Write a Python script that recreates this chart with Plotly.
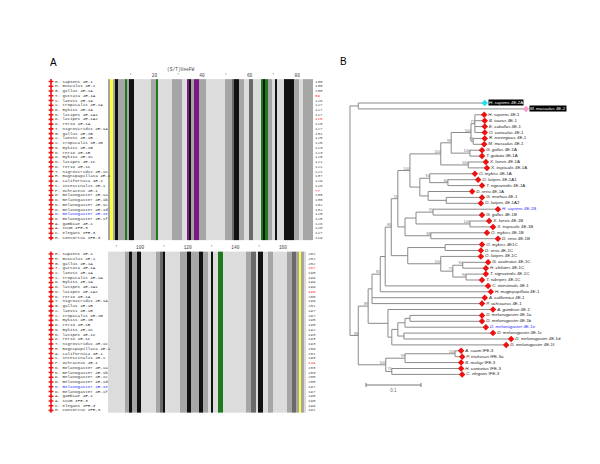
import plotly.graph_objects as go

W, H = 600, 464

# ---------------- Panel A : alignment data ----------------
aln_names = [
    "H. sapiens 4E-1", "M. musculus 4E-1", "G. gallus 4E-1A", "T. guttata 4E-1A",
    "X. laevis 4E-1A", "X. tropicalis 4E-1A", "O. mykiss 4E-1A", "O. latipes 4E-1A1",
    "O. latipes 4E-1A2", "D. rerio 4E-1A", "T. nigroviridis 4E-1A", "G. gallus 4E-1B",
    "X. laevis 4E-1B", "X. tropicalis 4E-1B", "O. mykiss 4E-1B", "D. rerio 4E-1B",
    "O. mykiss 4E-1C", "O. latipes 4E-1C", "D. rerio 4E-1C", "T. nigroviridis 4E-1C",
    "H. magnipapillata 4E-1", "A. californica 4E-1", "C. intestinalis 4E-1", "P. ochraceus 4E-1",
    "D. melanogaster 4E-1a", "D. melanogaster 4E-1b", "D. melanogaster 4E-1c", "D. melanogaster 4E-1d",
    "D. melanogaster 4E-1e", "D. melanogaster 4E-1f", "A. gambiae 4E-1", "A. suum IFE-3",
    "C. elegans IFE-3", "H. contortus IFE-3",
]
aln_blue_names = ["D. melanogaster 4E-1e"]

# column shading classes: . unshaded, g grey, d dark grey, k black, y yellow, G green, p purple
block1_classes = "gygkgggGgkk.......ggG......gggg..pkgppggg........gggdkkgg..dd...GkGgg.k...kkkkgg..gggg"
block2_classes = ".......ggkggkk......ggdk......gggkkgggkkgg.k..GG..........ggdd.kk..gg......ggddgyg."
block1_start = 1
block2_start = 87
block1_ticks = [10, 20, 30, 40, 50, 60, 70, 80]
block2_ticks = [90, 100, 110, 120, 130, 140, 150, 160]
block1_motif = "(S/T)VeeFW"

block1_end = [130, 130, 130, 89, 126, 127, 127, 127, 118, 128, 127, 131, 125, 125, 123, 123, 120,
              121, 121, 121, 137, 129, 126, 77, 130, 130, 132, 132, 125, 125, 126, 118, 127, 119]
block1_end_red = [3, 8, 23]
block2_end = [202, 202, 202, 167, 198, 199, 199, 199, 190, 200, 199, 201, 197, 197, 195, 195, 192,
              193, 193, 193, 209, 201, 198, 149, 203, 203, 205, 205, 197, 197, 198, 190, 199, 191]
block2_end_red = [3, 8, 23]

class_order = [".", "g", "d", "k", "y", "G", "p"]
class_colors = ["#dcdcdc", "#a6a6a6", "#6a6a6a", "#111111", "#ffff3a", "#1f7a1f", "#7d1a86"]

# ---------------- Panel B : tree data ----------------
tree_leaves = [
    "H. sapiens 4E-2A", "M. musculus 4E-2", "H. sapiens 4E-1", "B. taurus 4E-1", "E. caballus 4E-1",
    "O. cuniculus 4E-1", "R. norvegicus 4E-1", "M. musculus 4E-1", "G. gallus 4E-1A", "T. guttata 4E-1A",
    "X. laevis 4E-1A", "X. tropicalis 4E-1A", "O. mykiss 4E-1A", "O. latipes 4E-1A1",
    "T. nigroviridis 4E-1A", "D. rerio 4E-1A", "G. morhua 4E-1", "O. latipes 4E-1A2",
    "H. sapiens 4E-1B", "G. gallus 4E-1B", "X. laevis 4E-1B", "X. tropicalis 4E-1B", "O. mykiss 4E-1B",
    "D. rerio 4E-1B", "O. mykiss 4E1C", "D. rerio 4E-1C", "O. latipes 4E-1C", "G. aculeatus 4E-1C",
    "H. chilotes 4E-1C", "T. nigroviridis 4E-1C", "T. rubripes 4E-1C", "C. intestinalis 4E-1",
    "H. magnipapillata 4E-1", "A. californica 4E-1", "P. ochraceus 4E-1", "A. gambiae 4E-1",
    "D. melanogaster 4E-1a", "D. melanogaster 4E-1b", "D. melanogaster 4E-1e", "D. melanogaster 4E-1c",
    "D. melanogaster 4E-1d", "D. melanogaster 4E-1f", "A. suum IFE-3", "P. trichosuri IFE-3a",
    "B. malayi IFE-3", "H. contortus IFE-3", "C. elegans IFE-3",
]
leaf_depth = [
    0.245, 0.320, 0.244, 0.245, 0.245, 0.245, 0.245, 0.244, 0.240, 0.240,
    0.247, 0.249, 0.227, 0.233, 0.240, 0.222, 0.240, 0.238, 0.269, 0.240,
    0.253, 0.260, 0.249, 0.269, 0.240, 0.238, 0.238, 0.251, 0.247, 0.247,
    0.240, 0.251, 0.256, 0.245, 0.240, 0.260, 0.240, 0.240, 0.247, 0.260,
    0.293, 0.284, 0.202, 0.204, 0.202, 0.202, 0.204,
]
leaf_blue = ["H. sapiens 4E-1B", "D. melanogaster 4E-1e"]
leaf_boxed = {"H. sapiens 4E-2A": "#22e0f0", "M. musculus 4E-2": "#ff9ccf"}

node_names = ["n4E2", "m1", "m2", "mam", "birdA", "amn", "xenA", "tetA", "fa1", "fa2", "fa3", "fa4",
              "fishA", "A1", "b1", "b2", "b3", "b4", "B1", "AB", "c1", "c2", "c3", "c4", "c5", "C1",
              "ABC", "D1", "D2", "D3", "i1", "i2", "i3", "i4", "dm", "ins", "E", "n1", "n2", "n3",
              "nem", "main", "root"]
node_children = [
    ["H. sapiens 4E-2A", "M. musculus 4E-2"],
    ["H. sapiens 4E-1", "B. taurus 4E-1", "E. caballus 4E-1", "O. cuniculus 4E-1"],
    ["R. norvegicus 4E-1", "M. musculus 4E-1"],
    ["m1", "m2"],
    ["G. gallus 4E-1A", "T. guttata 4E-1A"],
    ["mam", "birdA"],
    ["X. laevis 4E-1A", "X. tropicalis 4E-1A"],
    ["amn", "xenA"],
    ["O. latipes 4E-1A1", "T. nigroviridis 4E-1A"],
    ["O. mykiss 4E-1A", "fa1"],
    ["G. morhua 4E-1", "O. latipes 4E-1A2"],
    ["D. rerio 4E-1A", "fa3"],
    ["fa2", "fa4"],
    ["tetA", "fishA"],
    ["H. sapiens 4E-1B", "G. gallus 4E-1B"],
    ["X. laevis 4E-1B", "X. tropicalis 4E-1B"],
    ["b1", "b2"],
    ["O. mykiss 4E-1B", "D. rerio 4E-1B"],
    ["b3", "b4"],
    ["A1", "B1"],
    ["O. mykiss 4E1C", "D. rerio 4E-1C"],
    ["T. nigroviridis 4E-1C", "T. rubripes 4E-1C"],
    ["G. aculeatus 4E-1C", "H. chilotes 4E-1C"],
    ["c3", "c2"],
    ["O. latipes 4E-1C", "c4"],
    ["c1", "c5"],
    ["AB", "C1"],
    ["ABC", "C. intestinalis 4E-1"],
    ["D1", "H. magnipapillata 4E-1"],
    ["D2", "A. californica 4E-1", "P. ochraceus 4E-1"],
    ["D. melanogaster 4E-1a", "D. melanogaster 4E-1b"],
    ["i1", "D. melanogaster 4E-1e"],
    ["D. melanogaster 4E-1c", "D. melanogaster 4E-1d"],
    ["i2", "i3"],
    ["i4", "D. melanogaster 4E-1f"],
    ["A. gambiae 4E-1", "dm"],
    ["D3", "ins"],
    ["A. suum IFE-3", "P. trichosuri IFE-3a"],
    ["n1", "B. malayi IFE-3"],
    ["H. contortus IFE-3", "C. elegans IFE-3"],
    ["n2", "n3"],
    ["E", "nem"],
    ["n4E2", "main"],
]
node_depth = [0.015, 0.227, 0.224, 0.220, 0.218, 0.184, 0.215, 0.165, 0.178, 0.145, 0.175, 0.142,
              0.127, 0.109, 0.151, 0.218, 0.120, 0.147, 0.100, 0.087, 0.173, 0.211, 0.205, 0.187,
              0.165, 0.105, 0.075, 0.064, 0.055, 0.040, 0.109, 0.100, 0.098, 0.087, 0.076, 0.069,
              0.033, 0.191, 0.100, 0.076, 0.065, 0.015, 0.0]
node_support = ["", "75", "73", "100", "100", "99", "100", "100", "60", "90", "", "", "", "100",
                "95", "100", "", "88", "", "76", "", "90", "90", "75", "100", "", "86", "", "85",
                "", "", "", "", "", "", "", "89", "100", "99", "70", "100", "88", ""]
scale_len = 0.1

# ---------------- pixel geometry helpers ----------------
def xdom(a, b):
    return [a / W, b / W]

def ydom(top, bottom):
    return [1 - bottom / H, 1 - top / H]

# alignment axis: px = 100 + 2.38*x ; py = 73.5 + 4.74*y
AX0, AXS = 100.0, 2.38
AY0, AYS = 73.5, 4.74
a_left, a_right, a_top, a_bot = 35, 325, 55, 410
block2_y0 = (246 - AY0) / AYS

# tree axis: px = 342 + 550*d ; py = 95 + 5.9*i
TX0, TXS = 342.0, 550.0
TY0, TYS = 95.0, 5.9
t_left, t_right, t_top, t_bot = 335, 600, 45, 400

fig = go.Figure()

# ---- alignment heatmaps ----
ncls = len(class_order)
cscale = []
for k, c in enumerate(class_colors):
    cscale.append([k / ncls, c])
    cscale.append([(k + 1) / ncls, c])

def block_z(classes, nrows):
    row = [class_order.index(ch) for ch in classes]
    return [row[:] for _ in range(nrows)]

nrows = len(aln_names)
b1_y = list(range(nrows))
b2_y = [block2_y0 + j for j in range(nrows)]
for classes, ys in ((block1_classes, b1_y), (block2_classes, b2_y)):
    fig.add_trace(go.Heatmap(
        z=block_z(classes, nrows), x=[c + 0.5 for c in range(len(classes))], y=ys,
        colorscale=cscale, zmin=0, zmax=ncls, showscale=False, hoverinfo="skip",
        xaxis="x", yaxis="y"))

# row labels + red markers (both blocks)
lab_x = (47 - AX0) / AXS
mk_x = (43 - AX0) / AXS
for ys in (b1_y, b2_y):
    fig.add_trace(go.Scatter(
        x=[mk_x] * nrows, y=ys, mode="markers",
        marker=dict(symbol="cross", size=4, color="#ee1111", line=dict(width=0)),
        hoverinfo="skip", xaxis="x", yaxis="y", showlegend=False))
    fig.add_trace(go.Scatter(
        x=[lab_x] * nrows, y=ys, mode="text", text=aln_names, textposition="middle right",
        textfont=dict(family="Liberation Mono", size=4.2,
                      color=["#2a2aff" if n in aln_blue_names else "#333333" for n in aln_names]),
        hoverinfo="skip", xaxis="x", yaxis="y", showlegend=False))

# end numbers
for vals, reds, ys, ncol in ((block1_end, block1_end_red, b1_y, len(block1_classes)),
                             (block2_end, block2_end_red, b2_y, len(block2_classes))):
    fig.add_trace(go.Scatter(
        x=[ncol + 1.0] * nrows, y=ys, mode="text", text=[str(v) for v in vals],
        textposition="middle right",
        textfont=dict(family="Liberation Mono", size=4.2,
                      color=["#ff3333" if i in reds else "#555555" for i in range(nrows)]),
        hoverinfo="skip", xaxis="x", yaxis="y", showlegend=False))

# column ruler
for start, ticks, yrow in ((block1_start, block1_ticks, -1.2),
                           (block2_start, block2_ticks, block2_y0 - 1.3)):
    tx, tt = [], []
    for t in ticks:
        tx.append(t - start + 0.5)
        tt.append(str(t) if t % 20 == 0 else "'")
    fig.add_trace(go.Scatter(
        x=tx, y=[yrow] * len(tx), mode="text", text=tt, textposition="middle center",
        textfont=dict(family="Liberation Mono", size=4.5, color="#444444"),
        hoverinfo="skip", xaxis="x", yaxis="y", showlegend=False))
fig.add_trace(go.Scatter(
    x=[31 - block1_start + 0.5], y=[-2.5], mode="text", text=[block1_motif],
    textposition="middle center", textfont=dict(family="Liberation Mono", size=4.5, color="#444444"),
    hoverinfo="skip", xaxis="x", yaxis="y", showlegend=False))

# ---- tree ----
leaf_index = {n: i for i, n in enumerate(tree_leaves)}
node_idx = {n: i for i, n in enumerate(node_names)}
pos = {}

def place(name):
    if name in pos:
        return pos[name]
    if name in leaf_index:
        i = leaf_index[name]
        pos[name] = (leaf_depth[i], float(i))
    else:
        k = node_idx[name]
        ys = [place(c)[1] for c in node_children[k]]
        pos[name] = (node_depth[k], (min(ys) + max(ys)) / 2)
    return pos[name]

place("root")
lx, ly = [], []
for k, name in enumerate(node_names):
    px, py = pos[name]
    cys = [pos[c][1] for c in node_children[k]]
    lx += [px, px, None]
    ly += [min(cys), max(cys), None]
    for c in node_children[k]:
        cx, cy = pos[c]
        lx += [px, cx, None]
        ly += [cy, cy, None]
fig.add_trace(go.Scatter(x=lx, y=ly, mode="lines", line=dict(color="#8a8a8a", width=1),
                         hoverinfo="skip", xaxis="x2", yaxis="y2", showlegend=False))

# support values
sx, sy, st = [], [], []
for k, name in enumerate(node_names):
    if node_support[k]:
        sx.append(pos[name][0])
        sy.append(pos[name][1])
        st.append(node_support[k])
fig.add_trace(go.Scatter(x=sx, y=sy, mode="text", text=st, textposition="top left",
                         textfont=dict(family="Liberation Sans", size=3.8, color="#777777"),
                         hoverinfo="skip", xaxis="x2", yaxis="y2", showlegend=False))

def fmt(n):
    parts = n.split(" ")
    return "<i>" + " ".join(parts[:2]) + "</i> " + " ".join(parts[2:])

plain = [n for n in tree_leaves if n not in leaf_boxed]
fig.add_trace(go.Scatter(
    x=[leaf_depth[leaf_index[n]] for n in plain], y=[leaf_index[n] for n in plain],
    mode="markers+text", text=[fmt(n) for n in plain], textposition="middle right",
    marker=dict(symbol="diamond", size=5, color="#ee1111"),
    textfont=dict(family="Liberation Sans", size=4.4,
                  color=["#2a2aff" if n in leaf_blue else "#222222" for n in plain]),
    hoverinfo="skip", xaxis="x2", yaxis="y2", showlegend=False))
for n, col in leaf_boxed.items():
    i = leaf_index[n]
    fig.add_trace(go.Scatter(x=[leaf_depth[i]], y=[i], mode="markers",
                             marker=dict(symbol="diamond", size=5, color=col),
                             hoverinfo="skip", xaxis="x2", yaxis="y2", showlegend=False))
    fig.add_annotation(x=leaf_depth[i], y=i, xref="x2", yref="y2", text=fmt(n), showarrow=False,
                       xanchor="left", xshift=3, bgcolor="#000000", borderpad=0,
                       font=dict(family="Liberation Sans", size=4.4, color="#ffffff"))

# scale bar
sb_y = (377 - TY0) / TYS
sb_x0 = (358 - TX0) / TXS
fig.add_trace(go.Scatter(
    x=[sb_x0, sb_x0 + scale_len, None, sb_x0, sb_x0, None, sb_x0 + scale_len, sb_x0 + scale_len],
    y=[sb_y, sb_y, None, sb_y - 0.35, sb_y + 0.35, None, sb_y - 0.35, sb_y + 0.35],
    mode="lines", line=dict(color="#777777", width=1), hoverinfo="skip",
    xaxis="x2", yaxis="y2", showlegend=False))
fig.add_trace(go.Scatter(x=[sb_x0 + scale_len / 2], y=[sb_y + 1.0], mode="text", text=[str(scale_len)],
                         textposition="middle center",
                         textfont=dict(family="Liberation Sans", size=4.5, color="#666666"),
                         hoverinfo="skip", xaxis="x2", yaxis="y2", showlegend=False))

# ---- layout ----
hid = dict(visible=False, showgrid=False, zeroline=False, fixedrange=True)
fig.update_layout(
    width=W, height=H, margin=dict(l=0, r=0, t=0, b=0),
    paper_bgcolor="white", plot_bgcolor="rgba(0,0,0,0)", showlegend=False,
    xaxis=dict(domain=xdom(a_left, a_right),
               range=[(a_left - AX0) / AXS, (a_right - AX0) / AXS], **hid),
    yaxis=dict(domain=ydom(a_top, a_bot),
               range=[(a_bot - AY0) / AYS, (a_top - AY0) / AYS], **hid),
    xaxis2=dict(domain=xdom(t_left, t_right), anchor="y2",
                range=[(t_left - TX0) / TXS, (t_right - TX0) / TXS], **hid),
    yaxis2=dict(domain=ydom(t_top, t_bot), anchor="x2",
                range=[(t_bot - TY0) / TYS, (t_top - TY0) / TYS], **hid),
)
fig.add_annotation(x=40 / W, y=1 - 55 / H, xref="paper", yref="paper", text="A", showarrow=False,
                   xanchor="left", yanchor="middle", font=dict(family="Liberation Sans", size=10, color="#000"))
fig.add_annotation(x=330 / W, y=1 - 53 / H, xref="paper", yref="paper", text="B", showarrow=False,
                   xanchor="left", yanchor="middle", font=dict(family="Liberation Sans", size=10, color="#000"))

fig.write_html("out.html")
